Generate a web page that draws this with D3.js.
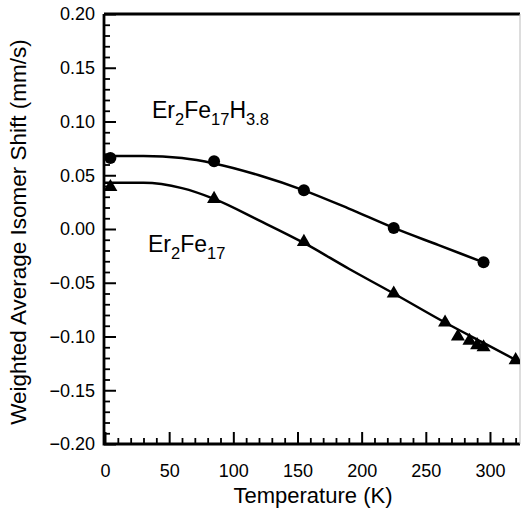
<!DOCTYPE html>
<html><head><meta charset="utf-8">
<script src="https://cdn.jsdelivr.net/npm/d3@7"></script>
<style>body{margin:0;background:#fff}svg{display:block}text{font-family:"Liberation Sans",Arial,sans-serif;fill:#000}</style>
</head><body>
<script>
// Data
const tempH = [4.2, 85, 155, 225, 295];
const shiftH = [0.066, 0.063, 0.036, 0.001, -0.031];
const tempE = [4.2, 85, 155, 225, 265, 275, 284, 290, 295, 320];
const shiftE = [0.039, 0.028, -0.012, -0.060, -0.087, -0.100, -0.104, -0.108, -0.110, -0.122];
// fitted curves
const fitTempH = [0, 30, 60, 85, 120, 155, 190, 225, 260, 295];
const fitShiftH = [0.068, 0.068, 0.066, 0.061, 0.050, 0.036, 0.019, 0.001, -0.015, -0.031];
const fitTempE = [0, 30, 60, 85, 120, 155, 190, 225, 265, 295, 330];
const fitShiftE = [0.043, 0.043, 0.038, 0.028, 0.008, -0.013, -0.037, -0.060, -0.087, -0.106, -0.128];
const xMajor = [0, 50, 100, 150, 200, 250, 300];
const yMajor = [0.20, 0.15, 0.10, 0.05, 0.00, -0.05, -0.10, -0.15, -0.20];

const W = 521, H = 512;
const svg = d3.select("body").append("svg").attr("width", W).attr("height", H);
const x = d3.scaleLinear().domain([0, 323.4]).range([105, 520]);
const y = d3.scaleLinear().domain([-0.20, 0.20]).range([444, 14]);

svg.append("defs").append("clipPath").attr("id","clip").append("rect")
  .attr("x",104).attr("y",14).attr("width",416).attr("height",430);

// minor ticks
const xMinor = d3.range(0, 330, 10).filter(v => v % 50 !== 0);
const yMinor = d3.range(-20, 21, 1).filter(v => v % 5 !== 0).map(v => v/100);
svg.append("g").attr("transform","translate(0,444)")
  .call(d3.axisBottom(x).tickValues(xMinor).tickSize(-6).tickFormat(""))
  .call(g => g.select(".domain").remove())
  .call(g => g.selectAll("line").attr("stroke","#000").attr("stroke-width",1.8));
svg.append("g").attr("transform","translate(104,0)")
  .call(d3.axisLeft(y).tickValues(yMinor).tickSize(-6).tickFormat(""))
  .call(g => g.select(".domain").remove())
  .call(g => g.selectAll("line").attr("stroke","#000").attr("stroke-width",1.8));

// major ticks
const xAx = svg.append("g").attr("transform","translate(0,444)")
  .call(d3.axisBottom(x).tickValues(xMajor).tickSize(-12).tickPadding(20).tickFormat(d3.format("d")));
xAx.select(".domain").remove();
xAx.selectAll("line").attr("stroke","#000").attr("stroke-width",2);
xAx.selectAll("text").attr("font-size",18).attr("font-family","Liberation Sans, Arial, sans-serif").attr("fill","#000");

const yAx = svg.append("g").attr("transform","translate(104,0)")
  .call(d3.axisLeft(y).tickValues(yMajor).tickSize(-12).tickPadding(-3).tickFormat(d3.format(".2f")));
yAx.select(".domain").remove();
yAx.selectAll("line").attr("stroke","#000").attr("stroke-width",2);
yAx.selectAll("text").attr("font-size",18).attr("font-family","Liberation Sans, Arial, sans-serif").attr("fill","#000").attr("x",-9);

// frame
svg.append("path").attr("d","M104,14 V444 H520").attr("fill","none").attr("stroke","#000").attr("stroke-width",2.8);
svg.append("line").attr("x1",104).attr("x2",520).attr("y1",14).attr("y2",14).attr("stroke","#000").attr("stroke-width",2.8);
svg.append("line").attr("x1",520).attr("x2",520).attr("y1",14).attr("y2",444).attr("stroke","#bbb").attr("stroke-width",1);

// curves
const line = d3.line().x(d => x(d[0])).y(d => y(d[1])).curve(d3.curveMonotoneX);
const plot = svg.append("g").attr("clip-path","url(#clip)");
plot.append("path").datum(d3.zip(fitTempH, fitShiftH)).attr("d", line)
  .attr("fill","none").attr("stroke","#000").attr("stroke-width",2.5);
plot.append("path").datum(d3.zip(fitTempE, fitShiftE)).attr("d", line)
  .attr("fill","none").attr("stroke","#000").attr("stroke-width",2.5);

// markers
plot.selectAll("circle.h").data(d3.zip(tempH, shiftH)).join("circle")
  .attr("cx", d => x(d[0])).attr("cy", d => y(d[1])).attr("r", 6).attr("fill","#000");
const tri = d3.symbol().type(d3.symbolTriangle).size(85);
plot.selectAll("path.e").data(d3.zip(tempE, shiftE)).join("path")
  .attr("transform", d => `translate(${x(d[0])},${y(d[1])})`).attr("d", tri).attr("fill","#000");

// labels
const t1 = svg.append("text").attr("x",152).attr("y",118).attr("font-size",23);
t1.append("tspan").text("Er");
t1.append("tspan").attr("font-size",16.5).attr("dy",7).text("2");
t1.append("tspan").attr("dy",-7).text("Fe");
t1.append("tspan").attr("font-size",16.5).attr("dy",7).text("17");
t1.append("tspan").attr("dy",-7).text("H");
t1.append("tspan").attr("font-size",16.5).attr("dy",7).text("3.8");

const t2 = svg.append("text").attr("x",148).attr("y",252).attr("font-size",23);
t2.append("tspan").text("Er");
t2.append("tspan").attr("font-size",16.5).attr("dy",7).text("2");
t2.append("tspan").attr("dy",-7).text("Fe");
t2.append("tspan").attr("font-size",16.5).attr("dy",7).text("17");

svg.append("text").attr("x",313).attr("y",503).attr("text-anchor","middle").attr("font-size",22).text("Temperature (K)");
svg.append("text").attr("transform","translate(26,232) rotate(-90)").attr("text-anchor","middle").attr("font-size",22.5)
  .text("Weighted Average Isomer Shift (mm/s)");
</script>
</body></html>
